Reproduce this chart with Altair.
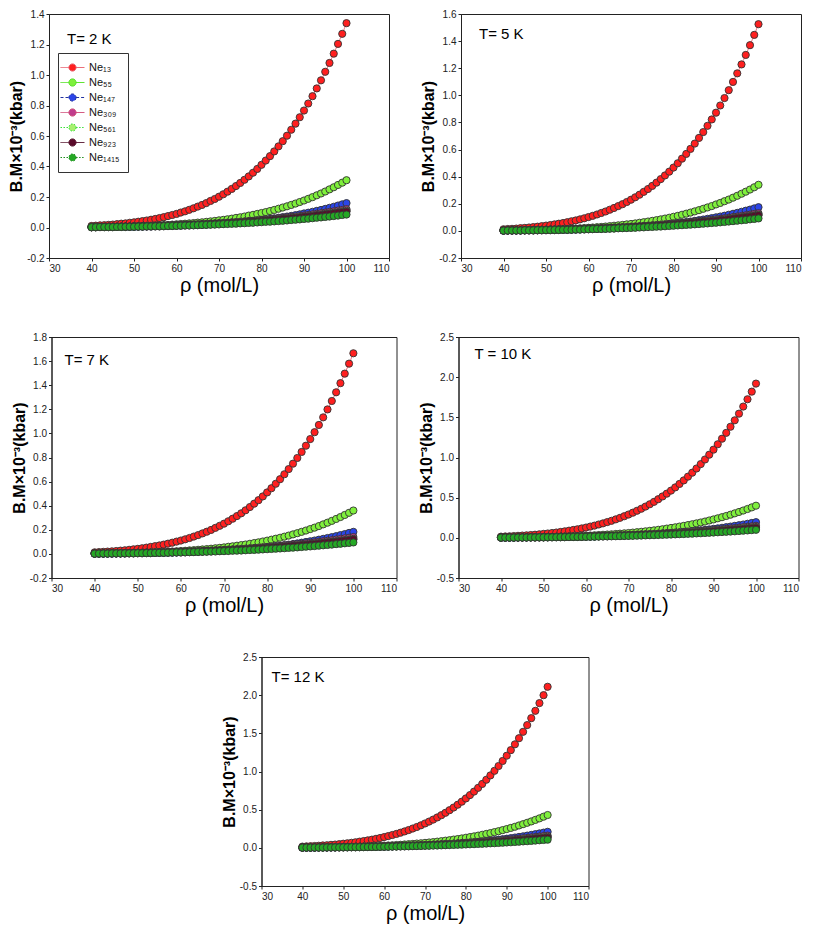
import altair as alt
import pandas as pd

rho = list(range(40, 101))
series_names = ["Ne₁₃", "Ne₅₅", "Ne₁₄₇", "Ne₃₀₉", "Ne₅₆₁", "Ne₉₂₃", "Ne₁₄₁₅"]
point_fill = ["#ff1f1f", "#7ff03c", "#2b45e8", "#c03c8c", "#a8f070", "#5a0a2a", "#25a825"]
line_color = ["#e8606e", "#50e020", "#2030a0", "#d04c78", "#38e038", "#5a1a34", "#1c8c1c"]
line_dash = [[1, 0], [1, 0], [3, 2], [1, 0], [1.5, 1.5], [1, 0], [1.5, 1.5]]
x_ticks = [30, 40, 50, 60, 70, 80, 90, 100, 110]
yt_2 = [-0.2, 0.0, 0.2, 0.4, 0.6, 0.8, 1.0, 1.2, 1.4]
yt_5 = [-0.2, 0.0, 0.2, 0.4, 0.6, 0.8, 1.0, 1.2, 1.4, 1.6]
yt_7 = [-0.2, 0.0, 0.2, 0.4, 0.6, 0.8, 1.0, 1.2, 1.4, 1.6, 1.8]
yt_10 = [-0.5, 0.0, 0.5, 1.0, 1.5, 2.0, 2.5]
yt_12 = [-0.5, 0.0, 0.5, 1.0, 1.5, 2.0, 2.5]

# ---------------- T = 2 K ----------------
t2_ne13 = [0.010, 0.012, 0.014, 0.015, 0.017, 0.019, 0.022, 0.025, 0.027, 0.031,
           0.034, 0.038, 0.042, 0.046, 0.051, 0.056, 0.062, 0.068, 0.075, 0.082,
           0.089, 0.098, 0.106, 0.116, 0.126, 0.137, 0.148, 0.160, 0.174, 0.187,
           0.202, 0.218, 0.235, 0.253, 0.272, 0.292, 0.313, 0.335, 0.359, 0.384,
           0.411, 0.439, 0.468, 0.499, 0.532, 0.566, 0.602, 0.641, 0.681, 0.723,
           0.767, 0.813, 0.861, 0.912, 0.965, 1.021, 1.079, 1.140, 1.204, 1.270,
           1.340]
t2_ne55 = [0.002, 0.003, 0.003, 0.004, 0.004, 0.004, 0.005, 0.006, 0.006, 0.007,
           0.008, 0.009, 0.010, 0.011, 0.012, 0.013, 0.014, 0.016, 0.017, 0.019,
           0.021, 0.023, 0.025, 0.027, 0.029, 0.032, 0.034, 0.037, 0.040, 0.043,
           0.047, 0.050, 0.054, 0.058, 0.063, 0.067, 0.072, 0.078, 0.083, 0.089,
           0.095, 0.101, 0.108, 0.115, 0.123, 0.131, 0.139, 0.148, 0.157, 0.167,
           0.177, 0.188, 0.199, 0.211, 0.223, 0.236, 0.250, 0.264, 0.279, 0.294,
           0.310]
t2_ne147 = [0.001, 0.001, 0.002, 0.002, 0.002, 0.002, 0.003, 0.003, 0.003, 0.004,
            0.004, 0.005, 0.005, 0.006, 0.006, 0.007, 0.007, 0.008, 0.009, 0.010,
            0.011, 0.012, 0.013, 0.014, 0.015, 0.016, 0.018, 0.019, 0.021, 0.022,
            0.024, 0.026, 0.028, 0.030, 0.032, 0.035, 0.037, 0.040, 0.043, 0.046,
            0.049, 0.052, 0.056, 0.060, 0.064, 0.068, 0.072, 0.076, 0.081, 0.086,
            0.092, 0.097, 0.103, 0.109, 0.115, 0.122, 0.129, 0.136, 0.144, 0.152,
            0.160]
t2_ne309 = [0.003, 0.003, 0.004, 0.004, 0.005, 0.005, 0.005, 0.006, 0.006, 0.007,
            0.008, 0.008, 0.009, 0.009, 0.010, 0.011, 0.012, 0.013, 0.014, 0.015,
            0.016, 0.017, 0.018, 0.019, 0.020, 0.021, 0.023, 0.024, 0.026, 0.027,
            0.029, 0.030, 0.032, 0.034, 0.036, 0.038, 0.040, 0.042, 0.044, 0.047,
            0.049, 0.052, 0.054, 0.057, 0.060, 0.063, 0.066, 0.069, 0.072, 0.075,
            0.079, 0.082, 0.086, 0.090, 0.094, 0.098, 0.102, 0.106, 0.111, 0.115,
            0.120]
t2_ne561 = [0.003, 0.003, 0.003, 0.004, 0.004, 0.005, 0.005, 0.005, 0.006, 0.006,
            0.007, 0.007, 0.008, 0.009, 0.009, 0.010, 0.011, 0.012, 0.012, 0.013,
            0.014, 0.015, 0.016, 0.017, 0.018, 0.020, 0.021, 0.022, 0.024, 0.025,
            0.026, 0.028, 0.030, 0.031, 0.033, 0.035, 0.037, 0.039, 0.041, 0.043,
            0.045, 0.047, 0.050, 0.052, 0.055, 0.057, 0.060, 0.063, 0.066, 0.069,
            0.072, 0.075, 0.079, 0.082, 0.086, 0.090, 0.093, 0.097, 0.101, 0.106,
            0.110]
t2_ne923 = [0.003, 0.003, 0.003, 0.004, 0.004, 0.004, 0.005, 0.005, 0.006, 0.006,
            0.007, 0.007, 0.008, 0.008, 0.009, 0.010, 0.010, 0.011, 0.012, 0.013,
            0.014, 0.015, 0.016, 0.017, 0.018, 0.019, 0.020, 0.021, 0.022, 0.024,
            0.025, 0.027, 0.028, 0.030, 0.031, 0.033, 0.035, 0.037, 0.039, 0.041,
            0.043, 0.045, 0.047, 0.050, 0.052, 0.055, 0.057, 0.060, 0.063, 0.066,
            0.069, 0.072, 0.075, 0.079, 0.082, 0.086, 0.089, 0.093, 0.097, 0.101,
            0.105]
t2_ne1415 = [0.002, 0.002, 0.003, 0.003, 0.003, 0.003, 0.004, 0.004, 0.005, 0.005,
             0.005, 0.006, 0.006, 0.007, 0.007, 0.008, 0.008, 0.009, 0.010, 0.010,
             0.011, 0.012, 0.013, 0.013, 0.014, 0.015, 0.016, 0.017, 0.018, 0.019,
             0.020, 0.022, 0.023, 0.024, 0.025, 0.027, 0.028, 0.030, 0.031, 0.033,
             0.035, 0.037, 0.038, 0.040, 0.042, 0.044, 0.046, 0.049, 0.051, 0.053,
             0.056, 0.058, 0.061, 0.064, 0.066, 0.069, 0.072, 0.075, 0.078, 0.082,
             0.085]

# ---------------- T = 5 K ----------------
t5_ne13 = [0.012, 0.014, 0.015, 0.017, 0.020, 0.022, 0.025, 0.028, 0.031, 0.035,
           0.039, 0.043, 0.048, 0.053, 0.058, 0.064, 0.071, 0.077, 0.085, 0.093,
           0.102, 0.111, 0.121, 0.132, 0.143, 0.156, 0.169, 0.183, 0.197, 0.213,
           0.230, 0.248, 0.267, 0.288, 0.309, 0.332, 0.356, 0.382, 0.409, 0.437,
           0.467, 0.499, 0.533, 0.568, 0.605, 0.644, 0.686, 0.729, 0.775, 0.822,
           0.872, 0.925, 0.980, 1.038, 1.099, 1.162, 1.228, 1.298, 1.370, 1.446,
           1.525]
t5_ne55 = [0.003, 0.003, 0.003, 0.004, 0.004, 0.005, 0.006, 0.006, 0.007, 0.008,
           0.009, 0.010, 0.011, 0.012, 0.013, 0.014, 0.016, 0.017, 0.019, 0.021,
           0.023, 0.025, 0.027, 0.029, 0.032, 0.035, 0.038, 0.041, 0.044, 0.048,
           0.051, 0.055, 0.060, 0.064, 0.069, 0.074, 0.079, 0.085, 0.091, 0.097,
           0.104, 0.111, 0.119, 0.127, 0.135, 0.144, 0.153, 0.163, 0.173, 0.183,
           0.195, 0.206, 0.219, 0.231, 0.245, 0.259, 0.274, 0.289, 0.305, 0.322,
           0.340]
t5_ne147 = [0.001, 0.002, 0.002, 0.002, 0.002, 0.003, 0.003, 0.003, 0.004, 0.004,
            0.004, 0.005, 0.005, 0.006, 0.007, 0.007, 0.008, 0.009, 0.010, 0.011,
            0.012, 0.013, 0.014, 0.015, 0.016, 0.018, 0.019, 0.021, 0.023, 0.024,
            0.026, 0.028, 0.031, 0.033, 0.035, 0.038, 0.041, 0.044, 0.047, 0.050,
            0.054, 0.057, 0.061, 0.065, 0.069, 0.074, 0.079, 0.084, 0.089, 0.094,
            0.100, 0.106, 0.112, 0.119, 0.126, 0.133, 0.141, 0.149, 0.157, 0.166,
            0.175]
t5_ne309 = [0.003, 0.004, 0.004, 0.004, 0.005, 0.005, 0.006, 0.006, 0.007, 0.007,
            0.008, 0.009, 0.010, 0.010, 0.011, 0.012, 0.013, 0.014, 0.015, 0.016,
            0.017, 0.018, 0.019, 0.020, 0.022, 0.023, 0.025, 0.026, 0.028, 0.029,
            0.031, 0.033, 0.035, 0.037, 0.039, 0.041, 0.043, 0.046, 0.048, 0.051,
            0.053, 0.056, 0.059, 0.062, 0.065, 0.068, 0.071, 0.074, 0.078, 0.082,
            0.085, 0.089, 0.093, 0.097, 0.102, 0.106, 0.110, 0.115, 0.120, 0.125,
            0.130]
t5_ne561 = [0.003, 0.003, 0.004, 0.004, 0.005, 0.005, 0.005, 0.006, 0.006, 0.007,
            0.008, 0.008, 0.009, 0.009, 0.010, 0.011, 0.012, 0.013, 0.014, 0.015,
            0.016, 0.017, 0.018, 0.019, 0.020, 0.021, 0.023, 0.024, 0.026, 0.027,
            0.029, 0.030, 0.032, 0.034, 0.036, 0.038, 0.040, 0.042, 0.044, 0.047,
            0.049, 0.052, 0.054, 0.057, 0.060, 0.063, 0.066, 0.069, 0.072, 0.075,
            0.079, 0.082, 0.086, 0.090, 0.094, 0.098, 0.102, 0.106, 0.111, 0.115,
            0.120]
t5_ne923 = [0.003, 0.003, 0.004, 0.004, 0.004, 0.005, 0.005, 0.006, 0.006, 0.007,
            0.007, 0.008, 0.008, 0.009, 0.010, 0.011, 0.011, 0.012, 0.013, 0.014,
            0.015, 0.016, 0.017, 0.018, 0.019, 0.021, 0.022, 0.023, 0.025, 0.026,
            0.028, 0.029, 0.031, 0.033, 0.034, 0.036, 0.038, 0.040, 0.043, 0.045,
            0.047, 0.050, 0.052, 0.055, 0.057, 0.060, 0.063, 0.066, 0.069, 0.072,
            0.075, 0.079, 0.082, 0.086, 0.090, 0.094, 0.098, 0.102, 0.106, 0.110,
            0.115]
t5_ne1415 = [0.002, 0.003, 0.003, 0.003, 0.003, 0.004, 0.004, 0.004, 0.005, 0.005,
             0.006, 0.006, 0.007, 0.007, 0.008, 0.008, 0.009, 0.010, 0.010, 0.011,
             0.012, 0.013, 0.014, 0.014, 0.015, 0.016, 0.017, 0.019, 0.020, 0.021,
             0.022, 0.023, 0.025, 0.026, 0.028, 0.029, 0.031, 0.032, 0.034, 0.036,
             0.038, 0.040, 0.042, 0.044, 0.046, 0.048, 0.050, 0.053, 0.055, 0.058,
             0.060, 0.063, 0.066, 0.069, 0.072, 0.075, 0.078, 0.081, 0.085, 0.088,
             0.092]

# ---------------- T = 7 K ----------------
t7_ne13 = [0.013, 0.015, 0.017, 0.019, 0.021, 0.024, 0.027, 0.030, 0.034, 0.038,
           0.042, 0.047, 0.052, 0.058, 0.064, 0.070, 0.077, 0.085, 0.093, 0.102,
           0.111, 0.121, 0.132, 0.144, 0.156, 0.170, 0.184, 0.199, 0.216, 0.233,
           0.251, 0.271, 0.292, 0.314, 0.337, 0.362, 0.389, 0.417, 0.446, 0.477,
           0.510, 0.545, 0.582, 0.620, 0.661, 0.704, 0.749, 0.796, 0.846, 0.898,
           0.953, 1.010, 1.070, 1.133, 1.199, 1.269, 1.341, 1.417, 1.496, 1.579,
           1.665]
t7_ne55 = [0.003, 0.003, 0.004, 0.004, 0.005, 0.005, 0.006, 0.007, 0.007, 0.008,
           0.009, 0.010, 0.011, 0.012, 0.014, 0.015, 0.017, 0.018, 0.020, 0.022,
           0.024, 0.026, 0.029, 0.031, 0.034, 0.037, 0.040, 0.043, 0.047, 0.050,
           0.054, 0.059, 0.063, 0.068, 0.073, 0.078, 0.084, 0.090, 0.096, 0.103,
           0.110, 0.118, 0.126, 0.134, 0.143, 0.152, 0.162, 0.172, 0.183, 0.194,
           0.206, 0.218, 0.231, 0.245, 0.259, 0.274, 0.290, 0.306, 0.323, 0.341,
           0.360]
t7_ne147 = [0.001, 0.002, 0.002, 0.002, 0.002, 0.003, 0.003, 0.003, 0.004, 0.004,
            0.005, 0.005, 0.006, 0.006, 0.007, 0.008, 0.008, 0.009, 0.010, 0.011,
            0.012, 0.013, 0.015, 0.016, 0.017, 0.019, 0.020, 0.022, 0.024, 0.026,
            0.028, 0.030, 0.032, 0.035, 0.037, 0.040, 0.043, 0.046, 0.049, 0.052,
            0.056, 0.060, 0.064, 0.068, 0.073, 0.077, 0.082, 0.087, 0.093, 0.099,
            0.105, 0.111, 0.118, 0.125, 0.132, 0.139, 0.147, 0.156, 0.164, 0.174,
            0.183]
t7_ne309 = [0.004, 0.004, 0.004, 0.005, 0.005, 0.006, 0.006, 0.007, 0.007, 0.008,
            0.009, 0.009, 0.010, 0.011, 0.012, 0.013, 0.014, 0.015, 0.016, 0.017,
            0.018, 0.019, 0.021, 0.022, 0.023, 0.025, 0.027, 0.028, 0.030, 0.032,
            0.034, 0.036, 0.038, 0.040, 0.042, 0.044, 0.047, 0.049, 0.052, 0.055,
            0.057, 0.060, 0.063, 0.066, 0.070, 0.073, 0.077, 0.080, 0.084, 0.088,
            0.092, 0.096, 0.100, 0.105, 0.109, 0.114, 0.119, 0.124, 0.129, 0.134,
            0.140]
t7_ne561 = [0.003, 0.004, 0.004, 0.004, 0.005, 0.005, 0.006, 0.006, 0.007, 0.007,
            0.008, 0.008, 0.009, 0.010, 0.011, 0.011, 0.012, 0.013, 0.014, 0.015,
            0.016, 0.017, 0.018, 0.020, 0.021, 0.022, 0.024, 0.025, 0.027, 0.028,
            0.030, 0.032, 0.034, 0.036, 0.037, 0.040, 0.042, 0.044, 0.046, 0.049,
            0.051, 0.054, 0.057, 0.059, 0.062, 0.065, 0.068, 0.072, 0.075, 0.078,
            0.082, 0.086, 0.090, 0.094, 0.098, 0.102, 0.106, 0.111, 0.115, 0.120,
            0.125]
t7_ne923 = [0.003, 0.003, 0.004, 0.004, 0.005, 0.005, 0.005, 0.006, 0.006, 0.007,
            0.008, 0.008, 0.009, 0.009, 0.010, 0.011, 0.012, 0.013, 0.014, 0.015,
            0.016, 0.017, 0.018, 0.019, 0.020, 0.021, 0.023, 0.024, 0.026, 0.027,
            0.029, 0.030, 0.032, 0.034, 0.036, 0.038, 0.040, 0.042, 0.044, 0.047,
            0.049, 0.052, 0.054, 0.057, 0.060, 0.063, 0.066, 0.069, 0.072, 0.075,
            0.079, 0.082, 0.086, 0.090, 0.094, 0.098, 0.102, 0.106, 0.111, 0.115,
            0.120]
t7_ne1415 = [0.002, 0.003, 0.003, 0.003, 0.004, 0.004, 0.004, 0.005, 0.005, 0.005,
             0.006, 0.006, 0.007, 0.007, 0.008, 0.009, 0.009, 0.010, 0.011, 0.012,
             0.012, 0.013, 0.014, 0.015, 0.016, 0.017, 0.018, 0.019, 0.020, 0.022,
             0.023, 0.024, 0.026, 0.027, 0.028, 0.030, 0.032, 0.033, 0.035, 0.037,
             0.039, 0.041, 0.043, 0.045, 0.047, 0.050, 0.052, 0.054, 0.057, 0.060,
             0.062, 0.065, 0.068, 0.071, 0.074, 0.077, 0.081, 0.084, 0.088, 0.091,
             0.095]

# ---------------- T = 10 K ----------------
t10_ne13 = [0.015, 0.017, 0.019, 0.022, 0.025, 0.028, 0.031, 0.035, 0.039, 0.044,
            0.049, 0.054, 0.060, 0.066, 0.073, 0.081, 0.089, 0.098, 0.107, 0.117,
            0.128, 0.140, 0.152, 0.166, 0.180, 0.196, 0.212, 0.230, 0.249, 0.269,
            0.290, 0.313, 0.337, 0.362, 0.389, 0.418, 0.448, 0.481, 0.515, 0.550,
            0.588, 0.628, 0.671, 0.715, 0.762, 0.811, 0.863, 0.918, 0.975, 1.035,
            1.098, 1.165, 1.234, 1.307, 1.383, 1.463, 1.546, 1.634, 1.725, 1.820,
            1.920]
t10_ne55 = [0.003, 0.004, 0.004, 0.005, 0.005, 0.006, 0.007, 0.007, 0.008, 0.009,
            0.010, 0.011, 0.012, 0.014, 0.015, 0.017, 0.019, 0.020, 0.022, 0.024,
            0.027, 0.029, 0.032, 0.035, 0.038, 0.041, 0.044, 0.048, 0.052, 0.056,
            0.060, 0.065, 0.070, 0.075, 0.081, 0.087, 0.093, 0.100, 0.107, 0.115,
            0.123, 0.131, 0.140, 0.149, 0.159, 0.169, 0.180, 0.191, 0.203, 0.216,
            0.229, 0.243, 0.257, 0.272, 0.288, 0.305, 0.322, 0.340, 0.359, 0.379,
            0.400]
t10_ne147 = [0.002, 0.002, 0.002, 0.002, 0.003, 0.003, 0.003, 0.004, 0.004, 0.004,
             0.005, 0.005, 0.006, 0.007, 0.007, 0.008, 0.009, 0.010, 0.011, 0.012,
             0.013, 0.014, 0.015, 0.017, 0.018, 0.020, 0.022, 0.023, 0.025, 0.027,
             0.029, 0.032, 0.034, 0.037, 0.040, 0.042, 0.046, 0.049, 0.052, 0.056,
             0.060, 0.064, 0.068, 0.073, 0.077, 0.082, 0.088, 0.093, 0.099, 0.105,
             0.112, 0.118, 0.125, 0.133, 0.140, 0.149, 0.157, 0.166, 0.175, 0.185,
             0.195]
t10_ne309 = [0.004, 0.004, 0.005, 0.005, 0.006, 0.006, 0.007, 0.007, 0.008, 0.009,
             0.009, 0.010, 0.011, 0.012, 0.013, 0.014, 0.015, 0.016, 0.017, 0.018,
             0.019, 0.021, 0.022, 0.024, 0.025, 0.027, 0.028, 0.030, 0.032, 0.034,
             0.036, 0.038, 0.040, 0.043, 0.045, 0.047, 0.050, 0.053, 0.056, 0.058,
             0.061, 0.065, 0.068, 0.071, 0.075, 0.078, 0.082, 0.086, 0.090, 0.094,
             0.098, 0.103, 0.107, 0.112, 0.117, 0.122, 0.127, 0.133, 0.138, 0.144,
             0.150]
t10_ne561 = [0.003, 0.004, 0.004, 0.005, 0.005, 0.006, 0.006, 0.007, 0.007, 0.008,
             0.008, 0.009, 0.010, 0.011, 0.011, 0.012, 0.013, 0.014, 0.015, 0.016,
             0.017, 0.019, 0.020, 0.021, 0.023, 0.024, 0.026, 0.027, 0.029, 0.031,
             0.032, 0.034, 0.036, 0.038, 0.040, 0.043, 0.045, 0.047, 0.050, 0.053,
             0.055, 0.058, 0.061, 0.064, 0.067, 0.070, 0.074, 0.077, 0.081, 0.085,
             0.089, 0.093, 0.097, 0.101, 0.105, 0.110, 0.115, 0.120, 0.125, 0.130,
             0.135]
t10_ne923 = [0.003, 0.004, 0.004, 0.004, 0.005, 0.005, 0.006, 0.006, 0.007, 0.007,
             0.008, 0.008, 0.009, 0.010, 0.011, 0.011, 0.012, 0.013, 0.014, 0.015,
             0.016, 0.017, 0.018, 0.020, 0.021, 0.022, 0.024, 0.025, 0.027, 0.028,
             0.030, 0.032, 0.034, 0.036, 0.037, 0.040, 0.042, 0.044, 0.046, 0.049,
             0.051, 0.054, 0.057, 0.059, 0.062, 0.065, 0.068, 0.072, 0.075, 0.078,
             0.082, 0.086, 0.090, 0.094, 0.098, 0.102, 0.106, 0.111, 0.115, 0.120,
             0.125]
t10_ne1415 = [0.003, 0.003, 0.003, 0.003, 0.004, 0.004, 0.004, 0.005, 0.005, 0.006,
              0.006, 0.007, 0.007, 0.008, 0.009, 0.009, 0.010, 0.011, 0.011, 0.012,
              0.013, 0.014, 0.015, 0.016, 0.017, 0.018, 0.019, 0.020, 0.021, 0.023,
              0.024, 0.025, 0.027, 0.028, 0.030, 0.032, 0.033, 0.035, 0.037, 0.039,
              0.041, 0.043, 0.045, 0.047, 0.050, 0.052, 0.055, 0.057, 0.060, 0.063,
              0.066, 0.069, 0.072, 0.075, 0.078, 0.081, 0.085, 0.089, 0.092, 0.096,
              0.100]

# ---------------- T = 12 K ----------------
t12_ne13 = [0.016, 0.019, 0.021, 0.024, 0.027, 0.031, 0.034, 0.039, 0.043, 0.048,
            0.054, 0.060, 0.066, 0.073, 0.081, 0.089, 0.098, 0.107, 0.118, 0.129,
            0.141, 0.154, 0.168, 0.182, 0.198, 0.215, 0.233, 0.253, 0.273, 0.295,
            0.319, 0.344, 0.370, 0.398, 0.428, 0.459, 0.493, 0.528, 0.565, 0.605,
            0.647, 0.691, 0.737, 0.786, 0.837, 0.892, 0.949, 1.009, 1.072, 1.138,
            1.207, 1.280, 1.356, 1.436, 1.520, 1.608, 1.699, 1.795, 1.896, 2.000,
            2.110]
t12_ne55 = [0.003, 0.004, 0.004, 0.005, 0.006, 0.006, 0.007, 0.008, 0.009, 0.010,
            0.011, 0.012, 0.013, 0.015, 0.016, 0.018, 0.020, 0.022, 0.024, 0.026,
            0.029, 0.031, 0.034, 0.037, 0.040, 0.044, 0.048, 0.051, 0.056, 0.060,
            0.065, 0.070, 0.075, 0.081, 0.087, 0.094, 0.100, 0.108, 0.115, 0.123,
            0.132, 0.141, 0.150, 0.160, 0.171, 0.182, 0.193, 0.206, 0.218, 0.232,
            0.246, 0.261, 0.276, 0.293, 0.310, 0.328, 0.346, 0.366, 0.386, 0.408,
            0.430]
t12_ne147 = [0.002, 0.002, 0.002, 0.002, 0.003, 0.003, 0.003, 0.004, 0.004, 0.005,
             0.005, 0.006, 0.007, 0.007, 0.008, 0.009, 0.010, 0.011, 0.012, 0.013,
             0.014, 0.015, 0.017, 0.018, 0.020, 0.021, 0.023, 0.025, 0.027, 0.029,
             0.032, 0.034, 0.037, 0.040, 0.043, 0.046, 0.049, 0.053, 0.056, 0.060,
             0.064, 0.069, 0.073, 0.078, 0.083, 0.089, 0.094, 0.100, 0.107, 0.113,
             0.120, 0.127, 0.135, 0.143, 0.151, 0.160, 0.169, 0.179, 0.189, 0.199,
             0.210]
t12_ne309 = [0.004, 0.005, 0.005, 0.005, 0.006, 0.007, 0.007, 0.008, 0.008, 0.009,
             0.010, 0.011, 0.012, 0.013, 0.014, 0.015, 0.016, 0.017, 0.018, 0.019,
             0.021, 0.022, 0.024, 0.025, 0.027, 0.029, 0.030, 0.032, 0.034, 0.036,
             0.038, 0.041, 0.043, 0.045, 0.048, 0.051, 0.053, 0.056, 0.059, 0.062,
             0.066, 0.069, 0.072, 0.076, 0.080, 0.084, 0.088, 0.092, 0.096, 0.100,
             0.105, 0.110, 0.115, 0.120, 0.125, 0.130, 0.136, 0.142, 0.148, 0.154,
             0.160]
t12_ne561 = [0.004, 0.004, 0.005, 0.005, 0.005, 0.006, 0.006, 0.007, 0.008, 0.008,
             0.009, 0.010, 0.011, 0.011, 0.012, 0.013, 0.014, 0.015, 0.016, 0.018,
             0.019, 0.020, 0.021, 0.023, 0.024, 0.026, 0.028, 0.029, 0.031, 0.033,
             0.035, 0.037, 0.039, 0.041, 0.043, 0.046, 0.048, 0.051, 0.054, 0.056,
             0.059, 0.062, 0.066, 0.069, 0.072, 0.076, 0.079, 0.083, 0.087, 0.091,
             0.095, 0.099, 0.104, 0.108, 0.113, 0.118, 0.123, 0.128, 0.134, 0.139,
             0.145]
t12_ne923 = [0.003, 0.004, 0.004, 0.005, 0.005, 0.006, 0.006, 0.007, 0.007, 0.008,
             0.008, 0.009, 0.010, 0.011, 0.011, 0.012, 0.013, 0.014, 0.015, 0.016,
             0.017, 0.019, 0.020, 0.021, 0.023, 0.024, 0.026, 0.027, 0.029, 0.031,
             0.032, 0.034, 0.036, 0.038, 0.040, 0.043, 0.045, 0.047, 0.050, 0.053,
             0.055, 0.058, 0.061, 0.064, 0.067, 0.070, 0.074, 0.077, 0.081, 0.085,
             0.089, 0.093, 0.097, 0.101, 0.105, 0.110, 0.115, 0.120, 0.125, 0.130,
             0.135]
t12_ne1415 = [0.003, 0.003, 0.003, 0.004, 0.004, 0.004, 0.005, 0.005, 0.006, 0.006,
              0.007, 0.007, 0.008, 0.008, 0.009, 0.010, 0.011, 0.011, 0.012, 0.013,
              0.014, 0.015, 0.016, 0.017, 0.018, 0.019, 0.020, 0.022, 0.023, 0.024,
              0.026, 0.027, 0.029, 0.030, 0.032, 0.034, 0.036, 0.038, 0.040, 0.042,
              0.044, 0.046, 0.048, 0.051, 0.053, 0.056, 0.059, 0.061, 0.064, 0.067,
              0.070, 0.073, 0.077, 0.080, 0.084, 0.087, 0.091, 0.095, 0.099, 0.103,
              0.107]

panels = [
    {"label": "T= 2 K", "vals": [t2_ne13, t2_ne55, t2_ne147, t2_ne309, t2_ne561, t2_ne923, t2_ne1415],
     "ydom": [-0.2, 1.4], "yticks": yt_2, "w": 340, "h": 244, "lx": 18, "ly": 25},
    {"label": "T= 5 K", "vals": [t5_ne13, t5_ne55, t5_ne147, t5_ne309, t5_ne561, t5_ne923, t5_ne1415],
     "ydom": [-0.2, 1.6], "yticks": yt_5, "w": 340, "h": 244, "lx": 18, "ly": 20},
    {"label": "T= 7 K", "vals": [t7_ne13, t7_ne55, t7_ne147, t7_ne309, t7_ne561, t7_ne923, t7_ne1415],
     "ydom": [-0.2, 1.8], "yticks": yt_7, "w": 345, "h": 241, "lx": 13, "ly": 23},
    {"label": "T = 10 K", "vals": [t10_ne13, t10_ne55, t10_ne147, t10_ne309, t10_ne561, t10_ne923, t10_ne1415],
     "ydom": [-0.5, 2.5], "yticks": yt_10, "w": 340, "h": 241, "lx": 16, "ly": 17},
    {"label": "T= 12 K", "vals": [t12_ne13, t12_ne55, t12_ne147, t12_ne309, t12_ne561, t12_ne923, t12_ne1415],
     "ydom": [-0.5, 2.5], "yticks": yt_12, "w": 327, "h": 229, "lx": 10, "ly": 20},
]

SYM = "M-2,0L-0.6,0M0.6,0L2,0M0.6,0A0.6,0.6,0,1,1,-0.6,0A0.6,0.6,0,1,1,0.6,0Z"


def make_panel(p, show_legend):
    rows = []
    for name, vals in zip(series_names, p["vals"]):
        assert len(vals) == len(rho), (p["label"], name, len(vals))
        for r, v in zip(rho, vals):
            rows.append({"rho": r, "bm": v, "series": name})
    df = pd.DataFrame(rows)
    if show_legend:
        leg = alt.Legend(orient="none", legendX=9, legendY=39, title=None,
                         symbolType=SYM, symbolSize=144, symbolStrokeWidth=1,
                         labelFontSize=11, labelOffset=10, labelColor="#111",
                         padding=8, strokeColor="#333", fillColor="white",
                         rowPadding=2)
    else:
        leg = None
    x = alt.X("rho:Q", scale=alt.Scale(domain=[30, 110], nice=False),
              axis=alt.Axis(values=x_ticks, title="ρ (mol/L)"))
    y = alt.Y("bm:Q", scale=alt.Scale(domain=p["ydom"], nice=False, zero=False),
              axis=alt.Axis(values=p["yticks"],
                            labelExpr="replace(format(datum.value, '.1f'), '\u2212', '-')",
                            title="B.M×10⁻³(kbar)"))
    base = alt.Chart(df)
    lines = base.mark_line(strokeWidth=1).encode(
        x=x, y=y,
        stroke=alt.Stroke("series:N", scale=alt.Scale(domain=series_names, range=line_color), legend=leg),
        strokeDash=alt.StrokeDash("series:N", scale=alt.Scale(domain=series_names, range=line_dash), legend=leg),
    )
    pts = base.mark_circle(size=52, stroke="#333", strokeWidth=0.9, opacity=1).encode(
        x=x, y=y,
        fill=alt.Fill("series:N", scale=alt.Scale(domain=series_names, range=point_fill), legend=leg),
    )
    txt = alt.Chart(pd.DataFrame({"t": [p["label"]]})).mark_text(
        align="left", baseline="middle", fontSize=15, color="#000"
    ).encode(x=alt.value(p["lx"]), y=alt.value(p["ly"]), text="t:N")
    return alt.layer(lines, pts, txt).properties(width=p["w"], height=p["h"])


charts = [make_panel(p, i == 0) for i, p in enumerate(panels)]

ind = dict(fill="independent", stroke="independent", strokeDash="independent")
row1 = alt.hconcat(charts[0], charts[1], spacing=30).resolve_scale(**ind)
row2 = alt.hconcat(charts[2], charts[3], spacing=20).resolve_scale(**ind)

chart = (
    alt.vconcat(row1, row2, charts[4], spacing=35, center=True)
    .resolve_scale(**ind)
    .properties(padding=0)
    .configure(font="Liberation Sans")
    .configure_view(stroke="#222", strokeWidth=1)
    .configure_axis(labelFontSize=10, labelColor="#222", tickColor="#222", domainColor="#222",
                    tickSize=3, labelPadding=2, titleColor="#000", grid=False,
                    labelFont="Liberation Sans", titleFont="Liberation Sans")
    .configure_axisX(titleFontSize=20, titleFontWeight="normal", titlePadding=2)
    .configure_axisY(titleFontSize=16, titleFontWeight="bold", titlePadding=2)
)

chart.save("out.html", embed_options={"renderer": "svg", "actions": False})
